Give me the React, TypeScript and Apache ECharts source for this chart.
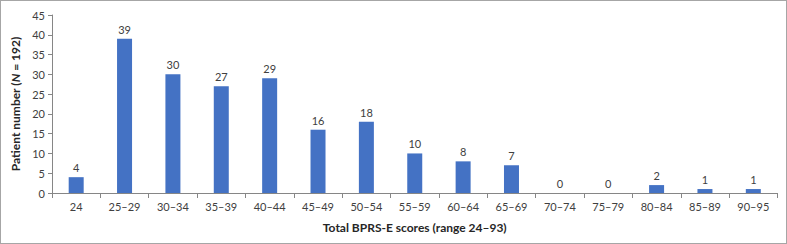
import React, { useEffect, useRef } from "react";
import * as echarts from "echarts";

const categories = ["24", "25–29", "30–34", "35–39", "40–44", "45–49", "50–54", "55–59", "60–64", "65–69", "70–74", "75–79", "80–84", "85–89", "90–95"];
const patients = [4, 39, 30, 27, 29, 16, 18, 10, 8, 7, 0, 0, 2, 1, 1];
const yTicks = { min: 0, max: 45, interval: 5 };

const FONT = "Lato, 'Open Sans', sans-serif";

export default function App() {
  const ref = useRef<HTMLDivElement>(null);
  useEffect(() => {
    const chart = echarts.init(ref.current!, null, { renderer: "svg" });
    chart.setOption({
      animation: false,
      textStyle: { fontFamily: FONT },
      grid: { left: 52, top: 15, right: 9.5, bottom: 51, containLabel: false },
      xAxis: {
        type: "category",
        data: categories,
        boundaryGap: true,
        axisLine: { lineStyle: { color: "#868686", width: 1 } },
        axisTick: { show: true, alignWithLabel: false, length: 5, lineStyle: { color: "#868686" } },
        axisLabel: { color: "#404040", fontSize: 11, margin: 8, interval: 0, fontFamily: FONT },
        name: "Total BPRS-E scores (range 24–93)",
        nameLocation: "middle",
        nameGap: 28,
        nameTextStyle: { fontSize: 12, fontWeight: "bold", color: "#262626", fontFamily: FONT },
      },
      yAxis: {
        type: "value",
        min: yTicks.min,
        max: yTicks.max,
        interval: yTicks.interval,
        axisLine: { show: true, lineStyle: { color: "#868686", width: 1 } },
        axisTick: { show: true, length: 4, lineStyle: { color: "#868686" } },
        splitLine: { show: false },
        axisLabel: { color: "#404040", fontSize: 11, margin: 7, fontFamily: FONT },
        name: "{b|Patient number (}{i|N}{b| = 192)}",
        nameLocation: "middle",
        nameGap: 30,
        nameRotate: 90,
        nameTextStyle: {
          fontSize: 12,
          fontWeight: "bold",
          color: "#262626",
          fontFamily: FONT,
          rich: {
            b: { fontSize: 12, fontWeight: "bold", color: "#262626", fontFamily: FONT },
            i: { fontSize: 12, fontWeight: "bold", fontStyle: "italic", color: "#262626", fontFamily: FONT },
          },
        },
      },
      series: [
        {
          type: "bar",
          data: patients,
          barWidth: 15,
          itemStyle: { color: "#4472C4" },
          label: { show: true, position: "top", color: "#404040", fontSize: 11, distance: 4, fontFamily: FONT },
        },
      ],
    });
    return () => chart.dispose();
  }, []);
  return (
    <div
      style={{
        position: "fixed",
        left: 0,
        top: 0,
        width: 787,
        height: 244,
        border: "1px solid #a6a6a6",
        boxSizing: "border-box",
        background: "#fff",
      }}
    >
      <div ref={ref} style={{ position: "absolute", left: -1, top: -1, width: 787, height: 244 }} />
    </div>
  );
}
